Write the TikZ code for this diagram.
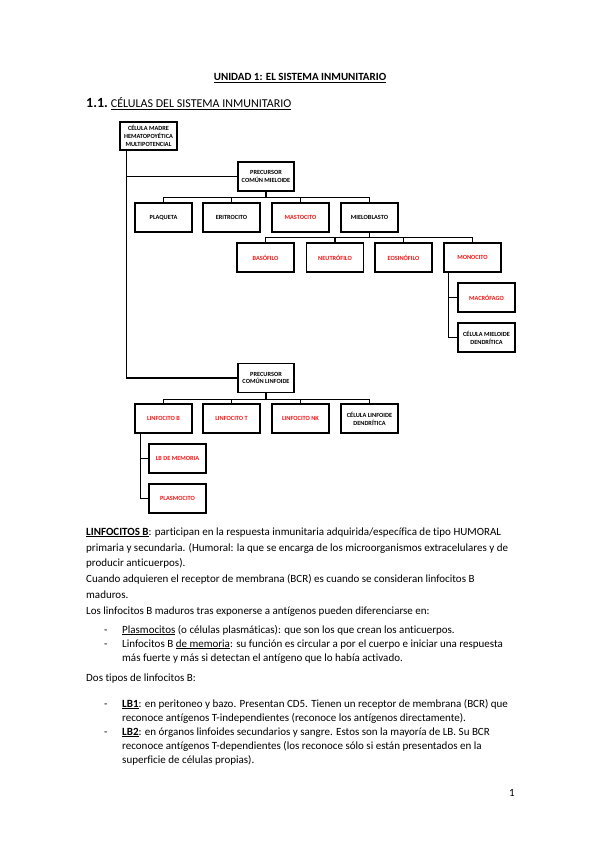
\documentclass[tikz,border=0pt]{standalone}
\usepackage{fontspec}
\setmainfont{Carlito}[Ligatures={NoCommon}]
\definecolor{cellred}{RGB}{250,20,20}
\tikzset{
  cell/.style={draw=black, line width=1.1pt, minimum width=57pt, minimum height=29pt, inner sep=0pt, align=center, font=\fontsize{6.3}{7.8}\selectfont\bfseries},
  redcell/.style={cell, text=cellred},
  conn/.style={draw=black, line width=1.1pt},
  body/.style={anchor=base west, inner sep=0pt, font=\fontsize{11}{13}\selectfont},
}
\begin{document}
\begin{tikzpicture}[x=1pt,y=-1pt]
\useasboundingbox (0,0) rectangle (599,848);
\fill[white] (0,0) rectangle (599,848);

% headings
\node[anchor=base, inner sep=0pt, font=\fontsize{11}{13}\selectfont\bfseries] (title) at (300,81) {\underline{UNIDAD 1: EL SISTEMA INMUNITARIO}};
\node[anchor=base west, inner sep=0pt] (heading) at (86,108) {{\fontsize{14}{16}\selectfont\bfseries 1.1.} {\fontsize{12}{14}\selectfont\underline{CÉLULAS DEL SISTEMA INMUNITARIO}}};

% tree
\node[cell, minimum height=28pt] (madre) at (148.5,136) {CÉLULA MADRE\\HEMATOPOYÉTICA\\MULTIPOTENCIAL};
\node[cell, minimum width=56pt] (mieloide) at (266,176.5) {PRECURSOR\\COMÚN MIELOIDE};
\node[cell] (plaqueta) at (163.5,217.5) {PLAQUETA};
\node[cell] (eritrocito) at (231.5,217.5) {ERITROCITO};
\node[redcell] (mastocito) at (300.5,217.5) {MASTOCITO};
\node[cell] (mieloblasto) at (369.5,217.5) {MIELOBLASTO};
\node[redcell] (basofilo) at (265.5,257.5) {BASÓFILO};
\node[redcell] (neutrofilo) at (335,257.5) {NEUTRÓFILO};
\node[redcell] (eosinofilo) at (403.5,257.5) {EOSINÓFILO};
\node[redcell] (monocito) at (472.5,257.5) {MONOCITO};
\node[redcell] (macrofago) at (486.5,297.5) {MACRÓFAGO};
\node[cell] (mdendritica) at (486.5,337.5) {CÉLULA MIELOIDE\\DENDRÍTICA};
\node[cell, minimum width=56pt] (linfoide) at (266,378) {PRECURSOR\\COMÚN LINFOIDE};
\node[redcell] (linfb) at (163.5,418.5) {LINFOCITO B};
\node[redcell] (linft) at (231.5,418.5) {LINFOCITO T};
\node[redcell] (linfnk) at (300.5,418.5) {LINFOCITO NK};
\node[cell] (ldendritica) at (369.5,418.5) {CÉLULA LINFOIDE\\DENDRÍTICA};
\node[redcell] (memoria) at (177.5,458.5) {LB DE MEMORIA};
\node[redcell] (plasmocito) at (177.5,498.5) {PLASMOCITO};

% connectors
\draw[conn] (madre.south west) ++(7,0) |- (mieloide.west);
\draw[conn] (madre.south west) ++(7,0) |- (linfoide.west);
\foreach \c in {plaqueta,eritrocito,mastocito,mieloblasto}
  \draw[conn] (mieloide.south) -- ++(0,5.5) -| (\c.north);
\foreach \c in {basofilo,neutrofilo,eosinofilo,monocito}
  \draw[conn] (mieloblasto.south) -- ++(0,5) -| (\c.north);
\draw[conn] (monocito.south west) ++(5,0) |- (macrofago.west);
\draw[conn] (monocito.south west) ++(5,0) |- (mdendritica.west);
\foreach \c in {linfb,linft,linfnk,ldendritica}
  \draw[conn] (linfoide.south) -- ++(0,6) -| (\c.north);
\draw[conn] (linfb.south west) ++(6,0) |- (memoria.west);
\draw[conn] (linfb.south west) ++(6,0) |- (plasmocito.west);

% body text
\node[body] (p1) at (86,535) {\underline{\textbf{LINFOCITOS B}}: participan en la respuesta inmunitaria adquirida/específica de tipo HUMORAL};
\node[body] (p2) at (86,551) {primaria y secundaria. (Humoral: la que se encarga de los microorganismos extracelulares y de};
\node[body] (p3) at (86,566) {producir anticuerpos).};
\node[body] (p4) at (86,582) {Cuando adquieren el receptor de membrana (BCR) es cuando se consideran linfocitos B};
\node[body] (p5) at (86,598) {maduros.};
\node[body] (p6) at (86,614) {Los linfocitos B maduros tras exponerse a antígenos pueden diferenciarse en:};

\node[body] (d1) at (104,633) {-};
\node[body] (b1) at (122,633) {\underline{Plasmocitos} (o células plasmáticas): que son los que crean los anticuerpos.};
\node[body] (d2) at (104,647) {-};
\node[body] (b2) at (122,647) {Linfocitos B \underline{de memoria}: su función es circular a por el cuerpo e iniciar una respuesta};
\node[body] (b2b) at (122,661) {más fuerte y más si detectan el antígeno que lo había activado.};

\node[body] (p7) at (86,681) {Dos tipos de linfocitos B:};

\node[body] (d3) at (104,707) {-};
\node[body] (b3) at (122,707) {\underline{\textbf{LB1}}: en peritoneo y bazo. Presentan CD5. Tienen un receptor de membrana (BCR) que};
\node[body] (b3b) at (122,721) {reconoce antígenos T-independientes (reconoce los antígenos directamente).};
\node[body] (d4) at (104,735) {-};
\node[body] (b4) at (122,735) {\underline{\textbf{LB2}}: en órganos linfoides secundarios y sangre. Estos son la mayoría de LB. Su BCR};
\node[body] (b4b) at (122,749) {reconoce antígenos T-dependientes (los reconoce sólo si están presentados en la};
\node[body] (b4c) at (122,763) {superficie de células propias).};

\node[body] (page) at (509,796) {1};
\end{tikzpicture}
\end{document}
